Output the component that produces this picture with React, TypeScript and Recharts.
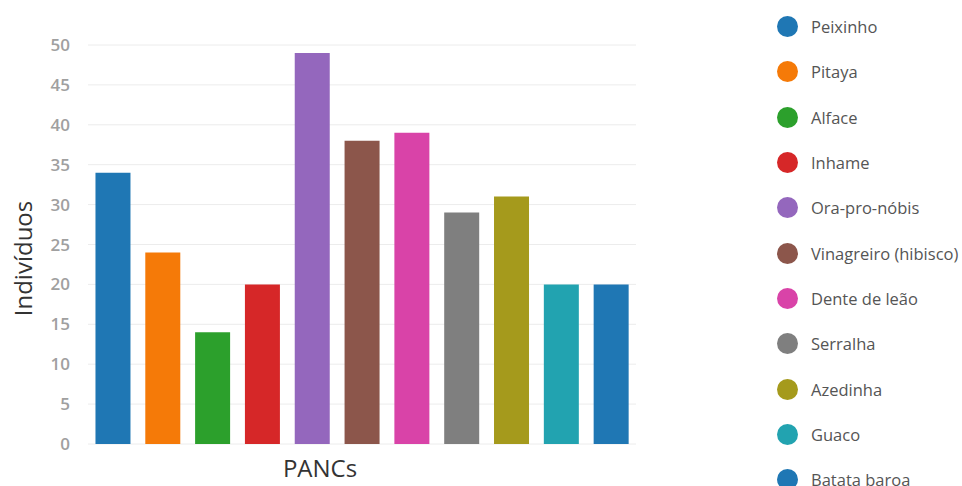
import { BarChart, Bar, XAxis, YAxis, CartesianGrid, Cell } from 'recharts';

const categories = [
  'Peixinho',
  'Pitaya',
  'Alface',
  'Inhame',
  'Ora-pro-nóbis',
  'Vinagreiro (hibisco)',
  'Dente de leão',
  'Serralha',
  'Azedinha',
  'Guaco',
  'Batata baroa',
];
const individuos = [34, 24, 14, 20, 49, 38, 39, 29, 31, 20, 20];
const colors = [
  '#1f77b4',
  '#f57a08',
  '#2ca02c',
  '#d62728',
  '#9467bd',
  '#8c564b',
  '#d943a8',
  '#7f7f7f',
  '#a59a1c',
  '#22a3b0',
  '#1f77b4',
];
const yTicks = [0, 5, 10, 15, 20, 25, 30, 35, 40, 45, 50];

const data = categories.map((name, i) => ({ name, value: individuos[i] }));

function LegendList() {
  return (
    <div
      style={{
        position: 'absolute',
        left: 777,
        top: 4,
        width: 185,
        fontFamily: '"Open Sans", sans-serif',
        fontSize: 16.5,
        color: '#555',
        whiteSpace: 'nowrap',
      }}
    >
      {categories.map((name, i) => (
        <div key={name} style={{ height: 45.3, display: 'flex', alignItems: 'center' }}>
          <span
            style={{
              width: 21,
              height: 21,
              borderRadius: '50%',
              background: colors[i],
              display: 'inline-block',
              marginRight: 13,
              flexShrink: 0,
            }}
          />
          <span>{name}</span>
        </div>
      ))}
    </div>
  );
}

export default function App() {
  return (
    <div style={{ position: 'absolute', left: 0, top: 0, width: 962, height: 486, overflow: 'hidden' }}>
      <BarChart
        width={962}
        height={486}
        data={data}
        margin={{ top: 45, right: 326, bottom: 0, left: 0 }}
        barCategoryGap="15%"
      >
        <CartesianGrid horizontal vertical={false} stroke="#ececec" />
        <XAxis
          dataKey="name"
          tick={false}
          tickLine={false}
          axisLine={false}
          height={42}
          label={{
            value: 'PANCs',
            position: 'center',
            dx: -42,
            dy: 3,
            style: { fontFamily: '"Open Sans", sans-serif', fontSize: 24, fill: '#333' },
          }}
        />
        <YAxis
          width={88}
          domain={[0, 50]}
          ticks={yTicks}
          tickLine={false}
          axisLine={false}
          tickMargin={12}
          tick={{ fontFamily: '"Open Sans", sans-serif', fontSize: 17, fontWeight: 600, fill: '#a0a0a0' }}
          label={{
            value: 'Indivíduos',
            angle: -90,
            position: 'insideLeft',
            offset: 23,
            dy: 14,
            style: {
              textAnchor: 'middle',
              fontFamily: '"Open Sans", sans-serif',
              fontSize: 24,
              fill: '#333',
            },
          }}
        />
        <Bar dataKey="value" isAnimationActive={false}>
          {data.map((d, i) => (
            <Cell key={d.name} fill={colors[i]} />
          ))}
        </Bar>
      </BarChart>
      <LegendList />
    </div>
  );
}
